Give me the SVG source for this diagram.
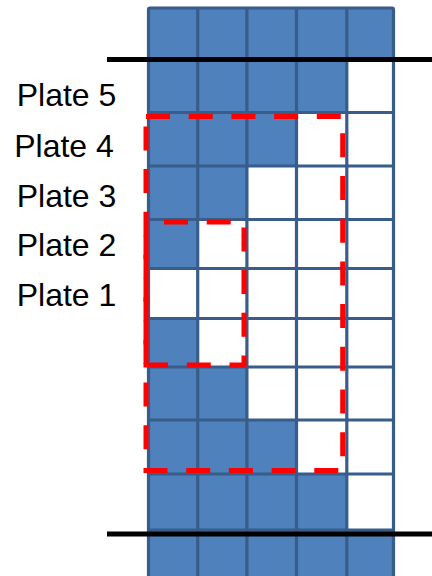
<svg xmlns="http://www.w3.org/2000/svg" width="432" height="576" viewBox="0 0 432 576">
  <style>
    .b { fill: #4F81BD; }
    .g { stroke: #385D8A; stroke-width: 3.2; fill: none; }
    .k { stroke: #000000; stroke-width: 5; }
    .r { stroke: #FF0000; stroke-width: 5; fill: none; stroke-dasharray: 24 18.7; }
    .t { font-family: "Liberation Sans", Arial, sans-serif; font-size: 32px; fill: #000000; text-anchor: middle; }
  </style>
  <rect width="432" height="576" fill="#FFFFFF"/>
  <g id="grid">
    <g id="row0">
      <rect class="b" x="148.5" y="8" width="245" height="51.5"/>
    </g>
    <g id="row1">
      <rect class="b" x="148.5" y="59.5" width="198.3" height="53"/>
    </g>
    <g id="row2">
      <rect class="b" x="148.5" y="112.5" width="148" height="53.5"/>
    </g>
    <g id="row3">
      <rect class="b" x="148.5" y="166" width="98.4" height="53.5"/>
    </g>
    <g id="row4">
      <rect class="b" x="148.5" y="219.5" width="49.2" height="49"/>
    </g>
    <g id="row6">
      <rect class="b" x="148.5" y="318.5" width="49.2" height="48.5"/>
    </g>
    <g id="row7">
      <rect class="b" x="148.5" y="367" width="98.4" height="53"/>
    </g>
    <g id="row8">
      <rect class="b" x="148.5" y="420" width="148" height="54"/>
    </g>
    <g id="row9">
      <rect class="b" x="148.5" y="474" width="198.3" height="56"/>
    </g>
    <g id="row10">
      <rect class="b" x="148.5" y="530" width="245" height="50"/>
    </g>
    <g id="gridlines" class="g">
      <path d="M148.5 580 V9.5 Q148.5 8 150 8 H392 Q393.5 8 393.5 9.5 V580"/>
      <path d="M197.7 8 V580 M246.9 8 V580 M296.5 8 V580 M346.8 8 V580"/>
      <path d="M148.5 59.5 H393.5 M148.5 112.5 H393.5 M148.5 166 H393.5 M148.5 219.5 H393.5 M148.5 268.5 H393.5 M148.5 318.5 H393.5 M148.5 367 H393.5 M148.5 420 H393.5 M148.5 474 H393.5 M148.5 530 H393.5"/>
    </g>
  </g>
  <g id="connectors">
    <line class="k" x1="107" y1="59.5" x2="432" y2="59.5"/>
    <line class="k" x1="107" y1="534" x2="432" y2="534"/>
    <rect id="big-box" class="r" x="146" y="116.5" width="196.7" height="354"/>
    <rect id="small-box" class="r" x="146" y="222" width="98" height="143" stroke-dashoffset="24.7"/>
  </g>
  <g id="labels">
    <text id="plate5" class="t" x="66.5" y="106">Plate 5</text>
    <text id="plate4" class="t" x="64" y="157">Plate 4</text>
    <text id="plate3" class="t" x="66.5" y="206.5">Plate 3</text>
    <text id="plate2" class="t" x="66.5" y="255.5">Plate 2</text>
    <text id="plate1" class="t" x="66.5" y="305.5">Plate 1</text>
  </g>
</svg>
